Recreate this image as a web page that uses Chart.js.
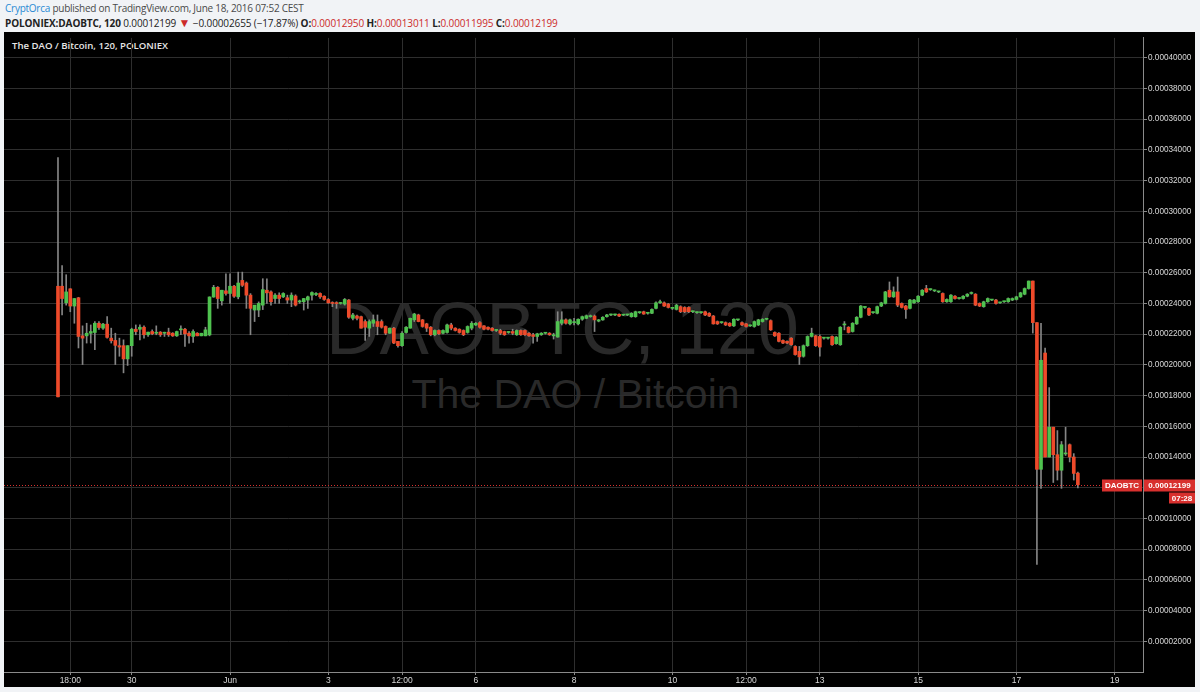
<!DOCTYPE html>
<html>
<head>
<meta charset="utf-8">
<script src="https://cdn.jsdelivr.net/npm/chart.js@4.4.0/dist/chart.umd.min.js"></script>
<style>
  html, body { margin: 0; padding: 0; }
  body { width: 1200px; height: 692px; background: #f1f3f6; position: relative; overflow: hidden; font-family: "Open Sans", sans-serif; }
  .head1 { position: absolute; left: 5px; top: 1px; font-size: 10px; line-height: 14px; color: #4a4a4a; white-space: nowrap; letter-spacing: -0.25px; }
  .head1 .user { color: #2a8ad4; }
  .head2 { position: absolute; left: 5px; top: 16px; font-size: 10px; line-height: 14px; color: #222; white-space: nowrap; letter-spacing: -0.12px; }
  .head2 b { font-weight: 700; }
  .head2 .red { color: #cc2a2a; }
  .head2 .tri { color: #cc2a2a; font-size: 12px; }
  #frame { position: absolute; left: 4px; top: 32px; width: 1191px; height: 655px; background: #000; }
  .wm { position: absolute; left: 0; width: 1139px; text-align: center; color: #292929; font-family: "Liberation Sans", Arial, sans-serif; white-space: nowrap; }
  .wm1 { top: 260px; left: -11px; font-size: 74px; line-height: 74px; }
  .wm2 { top: 342px; left: 2px; font-size: 41px; line-height: 41px; }
  .title { position: absolute; left: 8px; top: 7px; font-size: 9.6px; line-height: 14px; color: #e6e6e6; font-weight: 600; }
  #chart { position: absolute; left: 0; top: 0; }
</style>
</head>
<body>
<div class="head1"><span class="user">CryptOrca</span> published on TradingView.com, June 18, 2016 07:52 CEST</div>
<div class="head2"><b>POLONIEX:DAOBTC, 120</b> 0.00012199 <span class="tri">&#9660;</span> &minus;0.00002655 (&minus;17.87%) <b>O:</b><span class="red">0.00012950</span> <b>H:</b><span class="red">0.00013011</span> <b>L:</b><span class="red">0.00011995</span> <b>C:</b><span class="red">0.00012199</span></div>
<div id="frame">
  <div class="wm wm1">DAOBTC, 120</div>
  <div class="wm wm2">The DAO / Bitcoin</div>
  <div class="title">The DAO / Bitcoin, 120, POLONIEX</div>
  <canvas id="chart" width="1191" height="655"></canvas>
</div>
<script>
// 2h candles from May 28 12:00 to Jun 18 06:00, prices in satoshi (1e-8 BTC)
const opens = [
  25120,25120,24040,24950,23830,24370,21890,21890,22060,22110,
  22710,22390,22650,21740,21590,21250,21250,20390,21250,22320,
  22320,22450,21960,22170,22060,22130,22060,22130,22060,21890,
  22280,22320,22060,21850,22060,21890,21890,21950,24420,25050,
  24170,24820,24650,25120,24430,25500,25330,24540,23570,23570,
  23890,24860,24750,24320,24540,24430,24370,24220,24480,24100,
  24110,24220,24540,24580,24650,24470,24260,24020,24000,24000,
  23960,24220,23030,23180,23140,22820,22390,22710,22820,22820,
  22500,22060,22390,21530,21250,22110,22390,22930,23250,22930,
  22670,22450,21960,22240,22060,22110,22600,22390,22320,22240,
  22110,22390,22600,22750,22540,22450,22390,22240,22240,22170,
  22110,22170,21960,22240,22240,22060,21960,21850,21960,22060,
  22060,21890,21810,22710,22930,22670,22750,22670,22970,23030,
  23140,23180,22850,22930,23140,23250,23250,23290,23240,23250,
  23140,23140,23400,23460,23360,23360,23680,24050,24040,23960,
  23680,23610,23790,23740,23740,23460,23400,23400,23460,23360,
  23180,22820,22750,22750,22710,22540,22930,22750,22670,22540,
  22500,22600,22820,22970,22880,22110,22060,21590,21530,21740,
  21200,20880,20560,21250,21850,21890,21850,21740,21740,21850,
  21380,21310,22600,22450,22170,22670,23100,23740,23680,23400,
  23360,23830,24000,24860,24430,24750,24000,23830,23680,24040,
  24110,24540,24970,24900,24820,24750,24650,24110,24110,24470,
  24320,24320,24470,24650,24600,24000,23790,24110,24220,24220,
  24040,24110,24110,24220,24260,24430,24600,24970,25460,22750,
  13200,20770,14000,15940,14150,13140,14200,14800,14000,12950
];
const highs = [
  33500,26470,25870,24960,24320,24400,22540,22710,22600,22820,
  22820,22700,23140,22390,22060,21740,21630,21250,22390,22600,
  22600,22540,22130,22280,22540,22170,22130,22390,22100,22200,
  22540,22380,22170,22280,22100,22060,22450,24430,25180,25100,
  24860,25930,25930,25180,26040,26040,25400,24640,23680,24100,
  25610,25610,24820,24650,24690,24700,24540,24690,24560,24220,
  24330,24480,24750,24700,24690,24500,24320,24110,24110,24060,
  24320,24260,23360,23250,23180,22930,22930,23250,23250,22930,
  22540,22400,22450,21530,22170,22500,23050,23360,23300,22960,
  22710,22500,22280,22280,22280,22650,22710,22420,22350,22280,
  22540,22820,22760,22820,22560,22480,22420,22300,22320,22200,
  22170,22320,22280,22280,22280,22100,22060,22060,22100,22100,
  22100,22060,23460,23460,23000,22980,23030,23000,23180,23250,
  23250,23250,22960,23140,23290,23300,23300,23330,23290,23300,
  23400,23500,23460,23500,23400,23650,24100,24220,24100,24000,
  23740,23950,23850,23790,23790,23520,23460,23460,23500,23400,
  23220,22860,22800,22800,22750,23000,22970,22800,22710,22600,
  22860,22970,23010,23010,22930,22150,22100,21630,21570,21780,
  21250,21200,21300,21890,22390,21930,21960,21800,21800,21890,
  21850,22490,22820,22490,22750,23140,23870,23790,23720,23460,
  23830,24080,24790,25400,25080,25720,24040,23870,24260,24260,
  24510,24900,25180,24950,24870,24800,24690,24300,24580,24510,
  24360,24510,24640,24750,24640,24040,24150,24360,24260,24260,
  24080,24150,24360,24360,24470,24730,25010,25460,25460,22750,
  22710,21100,18520,15940,15720,15010,15940,14850,14220,13011
];
const lows = [
  17910,23250,23890,23460,22710,21100,20020,21420,21420,20990,
  22300,22300,21740,21420,20020,20560,19480,19960,20560,21960,
  21630,21740,21850,21960,21960,21850,21850,21850,21850,21850,
  21960,21200,21420,21460,21890,21890,21890,21890,24400,23680,
  23890,24540,24000,24400,24300,25100,23680,21960,22820,23140,
  23600,24000,23890,24000,24000,24380,24000,23790,23830,24000,
  23570,23680,24220,24500,24320,24200,24000,23790,23680,23950,
  23890,23030,22930,22930,22390,21590,21850,22500,21960,22390,
  21960,22050,21380,21160,21200,22060,22390,22820,22800,22450,
  22170,21890,21890,21960,22020,22060,22280,22200,22060,21900,
  22060,22280,22560,22390,22280,22280,22200,22170,21960,21920,
  22050,21960,21920,21920,21920,21850,21420,21530,21920,22000,
  21920,21680,21800,22600,22650,22600,22600,22600,22900,23000,
  23100,22170,22800,22900,23100,23200,23200,23140,23200,23200,
  23100,23100,23350,23290,23300,23330,23650,24000,23800,23700,
  23600,23570,23400,23400,23400,23400,23350,23350,23200,23140,
  22650,22630,22700,22560,22500,22500,22880,22560,22450,22500,
  22450,22560,22780,22930,22240,21850,21490,21380,21380,21270,
  20630,20020,20500,21200,21810,21200,20560,21680,21680,21270,
  21340,21270,22280,22070,22130,22630,23060,23680,23210,23350,
  23320,23790,23960,24400,24390,23790,23700,23030,23640,24000,
  24070,24500,24710,24850,24770,24700,24070,24070,24070,24280,
  24280,24280,24430,24600,23850,23790,23750,24070,24180,23960,
  24000,24070,24070,24180,24220,24390,24560,24930,22070,7010,
  11960,14000,14000,12340,12500,11960,14100,13680,12500,11995
];
const closes = [
  17920,24320,24750,23830,24320,21850,21740,22060,22170,22710,
  22430,22650,21790,21570,21270,21160,20390,21250,22320,22170,
  22450,21960,22130,22020,22070,21960,22060,21960,21890,22170,
  22280,22020,21890,22170,21890,22060,22280,24420,25050,24320,
  24860,24650,25120,24470,25330,25180,24540,23680,23890,24000,
  24900,24690,24110,24540,24320,24650,24220,24540,23890,24120,
  24320,24430,24710,24650,24430,24260,24040,24000,23990,24010,
  24260,23100,23250,23030,22390,22450,22820,22930,22500,22450,
  22060,22390,21420,21250,22060,22450,23030,23310,22820,22500,
  22390,21960,22240,22020,22240,22600,22390,22240,22110,21960,
  22500,22710,22710,22450,22320,22320,22240,22240,22060,21960,
  22110,22060,22240,21960,21960,21890,21850,22020,22060,22070,
  21960,21960,22820,22930,22710,22930,22760,22970,23140,23200,
  23200,22930,22930,23100,23250,23250,23260,23180,23250,23250,
  23360,23460,23400,23310,23360,23610,24040,24050,23830,23740,
  23680,23890,23460,23460,23460,23460,23400,23400,23250,23180,
  22670,22670,22750,22600,22540,22970,22930,22600,22500,22540,
  22820,22930,22970,22970,22280,21890,21530,21420,21420,21310,
  20670,20520,21250,21850,22060,21250,21160,21740,21740,21310,
  21810,22450,22600,22110,22710,23100,23830,23740,23250,23400,
  23790,24040,24750,24430,24750,23890,23740,23610,24220,24220,
  24470,24860,24750,24900,24820,24750,24110,24260,24540,24320,
  24320,24470,24600,24650,23890,23830,24110,24320,24220,24000,
  24040,24110,24320,24320,24430,24690,24970,25460,22750,13200,
  20300,14000,15940,14150,13140,14800,14220,14000,12930,12199
];

// x axis labels, placed at candle index
const tickIndex  = [3, 18, 42, 66, 84, 102, 126, 150, 168, 186, 210, 234, 258];
const tickLabels = ['18:00', '30', 'Jun', '3', '12:00', '6', '8', '10', '12:00', '13', '15', '17', '19'];

// price axis ticks (satoshi)
const priceTicks = [2000, 4000, 6000, 8000, 10000, 12000, 14000, 16000, 18000, 20000,
                    22000, 24000, 26000, 28000, 30000, 32000, 34000, 36000, 38000, 40000];

const symbolName = 'DAOBTC';
const barCountdown = '07:28';

const upColor = '#4fc24f';
const downColor = '#ee4a2a';
const redTag = '#d8302e';

const candleIndex = opens.map((v, i) => i);

const lastPricePlugin = {
    id: 'lastPrice',
    afterDatasetsDraw: function (chart) {
        const ctx = chart.ctx;
        const area = chart.chartArea;
        const last = closes[closes.length - 1];
        const y = Math.round(chart.scales.y.getPixelForValue(last)) + 0.5;

        ctx.save();
        ctx.strokeStyle = redTag;
        ctx.lineWidth = 1;
        ctx.setLineDash([1, 2]);
        ctx.beginPath();
        ctx.moveTo(area.left, y);
        ctx.lineTo(area.right - 41, y);
        ctx.stroke();
        ctx.setLineDash([]);

        ctx.fillStyle = redTag;
        ctx.fillRect(area.right - 41, y - 6, 40, 12);
        ctx.fillRect(area.right + 1, y - 6, 51, 12);
        ctx.fillRect(area.right + 26, y + 7, 26, 11);

        ctx.fillStyle = '#ffffff';
        ctx.font = 'bold 8px "Liberation Sans", Arial, sans-serif';
        ctx.textAlign = 'center';
        ctx.textBaseline = 'middle';
        ctx.fillText(symbolName, area.right - 21, y + 0.5);
        ctx.fillText((last / 1e8).toFixed(8), area.right + 26.5, y + 0.5);
        ctx.fillText(barCountdown, area.right + 39, y + 13);
        ctx.restore();
    }
};

const ctx = document.getElementById('chart').getContext('2d');

new Chart(ctx, {
    type: 'bar',
    data: {
        datasets: [{
            label: 'wick',
            data: candleIndex.map(i => ({ x: i, y: [lows[i], highs[i]] })),
            backgroundColor: '#858585',
            barThickness: 1,
            grouped: false,
            order: 2
        }, {
            label: 'body',
            data: candleIndex.map(i => ({ x: i, y: [opens[i], closes[i]] })),
            backgroundColor: function (c) {
                return closes[c.dataIndex] >= opens[c.dataIndex] ? upColor : downColor;
            },
            barThickness: 3,
            minBarLength: 1,
            grouped: false,
            order: 1
        }]
    },
    options: {
        responsive: false,
        animation: false,
        layout: { padding: 0 },
        plugins: {
            legend: { display: false },
            tooltip: { enabled: false }
        },
        scales: {
            x: {
                type: 'linear',
                offset: false,
                min: -13.18,
                max: 264.9,
                afterBuildTicks: function (scale) {
                    scale.ticks = tickIndex.map(v => ({ value: v }));
                },
                afterFit: function (scale) {
                    scale.height = 15;
                },
                ticks: {
                    autoSkip: false,
                    maxRotation: 0,
                    padding: 1,
                    color: '#d8d8d8',
                    font: { family: '"Liberation Sans", Arial, sans-serif', size: 8.5 },
                    callback: function (value) {
                        return tickLabels[tickIndex.indexOf(value)];
                    }
                },
                grid: {
                    offset: false,
                    color: '#2e2e2e',
                    tickColor: '#8a8a8a',
                    tickLength: 3
                },
                border: { color: '#8a8a8a' }
            },
            y: {
                position: 'right',
                min: 0,
                max: 41290,
                afterBuildTicks: function (scale) {
                    scale.ticks = priceTicks.map(v => ({ value: v }));
                },
                afterFit: function (scale) {
                    scale.width = 52;
                },
                ticks: {
                    padding: 1,
                    color: '#d8d8d8',
                    font: { family: '"Liberation Sans", Arial, sans-serif', size: 8.2 },
                    callback: function (value) {
                        return (value / 1e8).toFixed(8);
                    }
                },
                grid: {
                    color: '#2e2e2e',
                    tickColor: '#8a8a8a',
                    tickLength: 4
                },
                border: { color: '#8a8a8a' }
            }
        }
    },
    plugins: [lastPricePlugin]
});
</script>
</body>
</html>
